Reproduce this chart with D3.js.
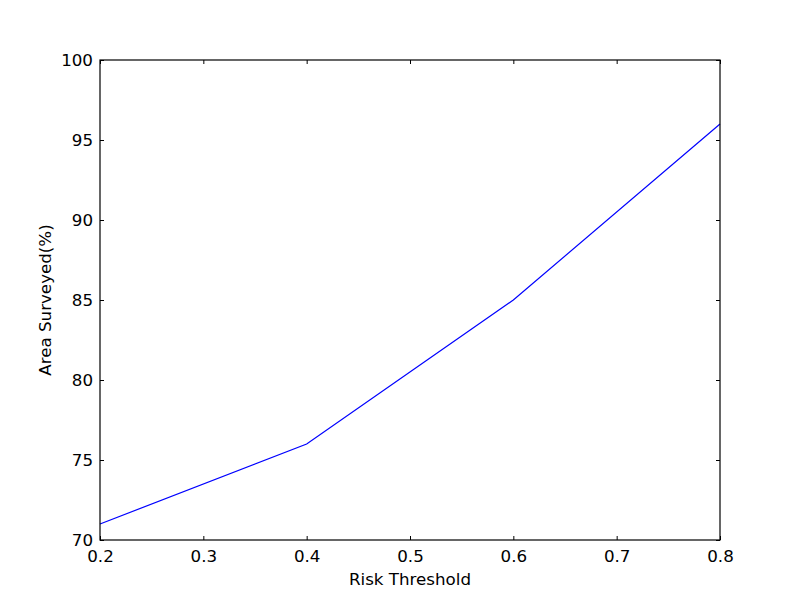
<!DOCTYPE html>
<html>
<head>
<meta charset="utf-8">
<title>Risk Threshold vs Area Surveyed</title>
<script src="https://cdn.jsdelivr.net/npm/d3@7"></script>
<style>
  body { margin: 0; background: #fff; }
  text { font-family: "DejaVu Sans", sans-serif; }
</style>
</head>
<body>
<div id="chart"></div>
<script>
var thresholds = [0.2, 0.4, 0.6, 0.8];
var areaSurveyed = [71, 76, 85, 96];
var xTicks = [0.2, 0.3, 0.4, 0.5, 0.6, 0.7, 0.8];
var yTicks = [70, 75, 80, 85, 90, 95, 100];

var width = 800, height = 600;
var margin = {top: 60, right: 80, bottom: 60, left: 100};
var w = width - margin.left - margin.right;
var h = height - margin.top - margin.bottom;

var svg = d3.select("#chart").append("svg")
    .attr("width", width)
    .attr("height", height);

var g = svg.append("g")
    .attr("transform", "translate(" + margin.left + "," + margin.top + ")");

var x = d3.scaleLinear().domain([0.2, 0.8]).range([0, w]);
var y = d3.scaleLinear().domain([70, 100]).range([h, 0]);

// inward ticks on all four sides, like matplotlib classic
function styleAxis(sel) {
    sel.select(".domain").remove();
    sel.selectAll("line").attr("stroke", "#000");
    sel.selectAll("text").attr("fill", "#000").style("font-size", "16.7px");
}

g.append("g")
    .attr("transform", "translate(0," + h + ")")
    .call(d3.axisBottom(x).tickValues(xTicks).tickFormat(d3.format(".1f")).tickSizeInner(-4).tickPadding(8))
    .call(styleAxis)
    .selectAll("text").attr("dy", "0.85em");

g.append("g")
    .call(d3.axisTop(x).tickValues(xTicks).tickFormat("").tickSizeInner(-4))
    .call(styleAxis);

g.append("g")
    .call(d3.axisLeft(y).tickValues(yTicks).tickSizeInner(-4).tickPadding(7))
    .call(styleAxis);

g.append("g")
    .attr("transform", "translate(" + w + ",0)")
    .call(d3.axisRight(y).tickValues(yTicks).tickFormat("").tickSizeInner(-4))
    .call(styleAxis);

var line = d3.line()
    .x(function (d, i) { return x(thresholds[i]); })
    .y(function (d) { return y(d); });

g.append("path")
    .datum(areaSurveyed)
    .attr("fill", "none")
    .attr("stroke", "#0000ff")
    .attr("stroke-width", 1.2)
    .attr("d", line);

g.append("rect")
    .attr("width", w)
    .attr("height", h)
    .attr("fill", "none")
    .attr("stroke", "#000")
    .attr("stroke-width", 1.2);

svg.append("text")
    .attr("x", margin.left + w / 2)
    .attr("y", 585)
    .attr("text-anchor", "middle")
    .style("font-size", "16.7px")
    .text("Risk Threshold");

svg.append("text")
    .attr("transform", "translate(51," + (margin.top + h / 2) + ") rotate(-90)")
    .attr("text-anchor", "middle")
    .style("font-size", "16.7px")
    .text("Area Surveyed(%)");
</script>
</body>
</html>
